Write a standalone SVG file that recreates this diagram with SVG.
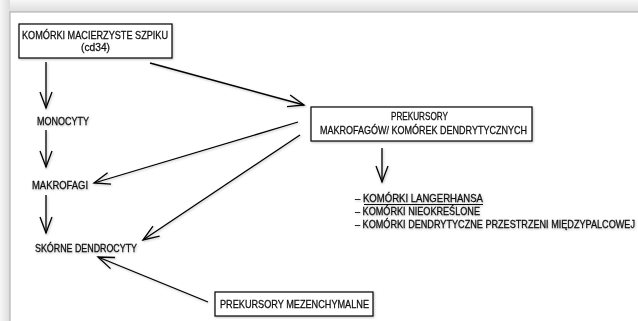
<svg xmlns="http://www.w3.org/2000/svg" width="638" height="321" viewBox="0 0 638 321">
<defs>
<linearGradient id="gTop" x1="0" y1="0" x2="0" y2="1"><stop offset="0" stop-color="#f7f7f7"/><stop offset="1" stop-color="#dcdcdc"/></linearGradient>
<linearGradient id="gLeft" x1="0" y1="0" x2="1" y2="0"><stop offset="0" stop-color="#f7f7f7"/><stop offset="1" stop-color="#dcdcdc"/></linearGradient>
<filter id="soft" x="-10%" y="-10%" width="120%" height="120%"><feDropShadow dx="0.8" dy="1" stdDeviation="1.2" flood-color="#000" flood-opacity="0.25"/></filter>
<marker id="arr" markerUnits="userSpaceOnUse" markerWidth="20" markerHeight="16" refX="0" refY="0" viewBox="-18 -8 20 16" orient="auto" overflow="visible">
<path d="M-16,-6 L0,0 L-16,6" fill="none" stroke="#000" stroke-width="1.3" stroke-linejoin="miter"/>
</marker>
</defs>
<style>
text{font-family:"Liberation Sans Narrow","Liberation Sans",Arial,sans-serif;font-size:11.5px;fill:#111;stroke:#111;stroke-width:0.3}
.box{fill:#fff;stroke:#000;stroke-width:1.2}
.c{stroke:#000;stroke-width:1.3;fill:none;marker-end:url(#arr)}
</style>
<rect x="0" y="0" width="638" height="321" fill="#f2f2f2"/>
<rect x="0" y="0" width="638" height="12" fill="url(#gTop)"/>
<rect x="0" y="0" width="10" height="321" fill="url(#gLeft)"/>
<rect x="10" y="12" width="640" height="320" fill="#fff" stroke="#aaaaaa" stroke-width="1"/>

<g id="connectors" filter="url(#soft)">
<line class="c" x1="46" y1="62" x2="46" y2="108"/>
<line class="c" x1="46" y1="130" x2="46" y2="167"/>
<line class="c" x1="46" y1="195" x2="46" y2="233"/>
<line class="c" x1="150" y1="63" x2="304" y2="105"/>
<line class="c" x1="298" y1="122" x2="94" y2="183"/>
<line class="c" x1="300" y1="135" x2="143" y2="240"/>
<line class="c" x1="208" y1="302" x2="98" y2="257"/>
<line class="c" x1="382" y1="148" x2="382" y2="182"/>
</g>

<g id="stem-cells" filter="url(#soft)">
<rect class="box" x="19" y="24" width="153" height="34"/>
<text x="22" y="39" textLength="146" lengthAdjust="spacingAndGlyphs">KOMÓRKI MACIERZYSTE SZPIKU</text>
<text x="81" y="51" textLength="29" lengthAdjust="spacingAndGlyphs">(cd34)</text>
</g>

<g id="monocyty" filter="url(#soft)">
<text x="37" y="125" textLength="52" lengthAdjust="spacingAndGlyphs">MONOCYTY</text>
</g>

<g id="makrofagi" filter="url(#soft)">
<text x="32" y="189" textLength="56" lengthAdjust="spacingAndGlyphs">MAKROFAGI</text>
</g>

<g id="dendrocyty" filter="url(#soft)">
<text x="35" y="252" textLength="102" lengthAdjust="spacingAndGlyphs">SKÓRNE DENDROCYTY</text>
</g>

<g id="prekursory" filter="url(#soft)">
<rect class="box" x="311" y="107" width="221" height="34"/>
<text x="391" y="120" textLength="57" lengthAdjust="spacingAndGlyphs">PREKURSORY</text>
<text x="320" y="134" textLength="207" lengthAdjust="spacingAndGlyphs">MAKROFAGÓW/ KOMÓREK DENDRYTYCZNYCH</text>
</g>

<g id="lista" filter="url(#soft)">
<text x="355" y="202" textLength="128" lengthAdjust="spacingAndGlyphs">– KOMÓRKI LANGERHANSA</text>
<line x1="364" y1="204.5" x2="483" y2="204.5" stroke="#111" stroke-width="1"/>
<text x="355" y="215" textLength="125" lengthAdjust="spacingAndGlyphs">– KOMÓRKI NIEOKREŚLONE</text>
<text transform="translate(355,228) scale(0.8,1)" x="0" y="0" textLength="350" lengthAdjust="spacingAndGlyphs">– KOMÓRKI DENDRYTYCZNE PRZESTRZENI MIĘDZYPALCOWEJ</text>
</g>

<g id="mezenchymalne" filter="url(#soft)">
<rect class="box" x="215" y="292" width="158" height="24"/>
<text x="220" y="308" textLength="149" lengthAdjust="spacingAndGlyphs">PREKURSORY MEZENCHYMALNE</text>
</g>
</svg>
